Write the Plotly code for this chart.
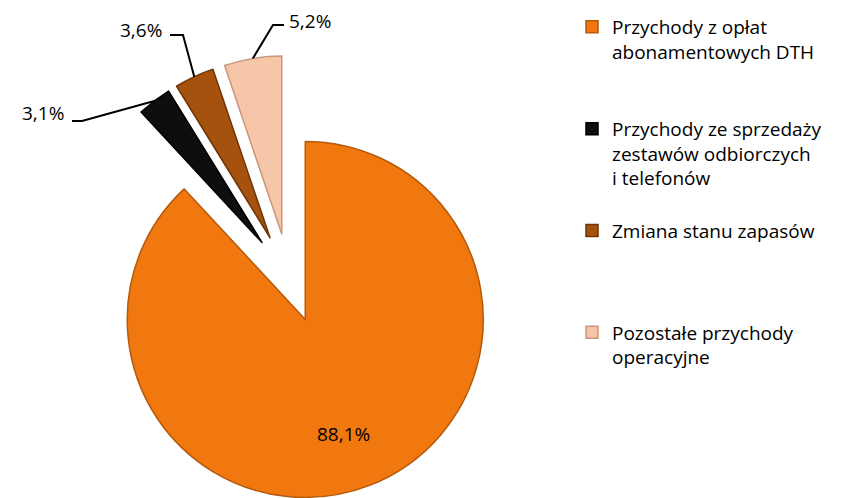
import math
import plotly.graph_objects as go

# ---- data ----
labels = [
    "Przychody z opłat<br>abonamentowych DTH",
    "Przychody ze sprzedaży<br>zestawów odbiorczych<br>i telefonów",
    "Zmiana stanu zapasów",
    "Pozostałe przychody<br>operacyjne",
]
values = [88.1, 3.1, 3.6, 5.2]
pct_text = [f"{v:.1f}%".replace(".", ",") for v in values]

# ---- style / layout ----
W, H = 852, 498
PAGE = 8  # default body margin of the html page (screen px)
colors = ["#F0780F", "#0E0E0E", "#A4520D", "#F6C6A8"]
edge_colors = ["#B45A0C", "#000000", "#6E3508", "#C9977C"]
pulls = [0.25, 0.25, 0.25, 0.25]
FONT = "Open Sans, Calibri, sans-serif"
FS = 19

# pie placement in screen pixels (pie centre, radius)
CX, CY, RAD = 289, 278, 178
HALF = RAD * (1 + max(pulls))


def s2p(x, y):
    """screen pixel -> paper fraction"""
    return (x - PAGE) / W, 1 - (y - PAGE) / H


# pad legend entries to equal height (entries are spaced evenly)
LEG_LINES = 4
leg_labels = []
for lab in labels:
    n = lab.count("<br>") + 1
    leg_labels.append(lab + "<br> " * (LEG_LINES - n))

dx0, dy1 = s2p(CX - HALF, CY - HALF)
dx1, dy0 = s2p(CX + HALF, CY + HALF)

fig = go.Figure()
fig.add_trace(go.Pie(
    labels=leg_labels,
    values=values,
    sort=False,
    direction="clockwise",
    rotation=0,
    pull=pulls,
    textinfo="none",
    marker=dict(colors=colors, line=dict(color=edge_colors, width=1.5)),
    domain=dict(x=[dx0, dx1], y=[dy0, dy1]),
    hoverinfo="label+percent",
))

# slice mid angles (clockwise from 12 o'clock)
total = sum(values)
cum = 0.0
mids = []
for v in values:
    a0 = cum / total * 360
    cum += v
    a1 = cum / total * 360
    mids.append((a0 + a1) / 2)

# label for the big slice, inside it
th = math.radians(mids[0])
pv = (CX + pulls[0] * RAD * math.sin(th), CY - pulls[0] * RAD * math.cos(th))
lx, ly = pv[0] + 0.68 * RAD * math.sin(th + math.radians(3)), pv[1] - 0.68 * RAD * math.cos(th + math.radians(3))
p = s2p(lx, ly)
fig.add_annotation(x=p[0], y=p[1], xref="paper", yref="paper", text=pct_text[0],
                   showarrow=False, xanchor="center", yanchor="middle",
                   font=dict(family=FONT, size=FS, color="#000000"))

# outside labels with elbow leader lines for small slices (screen px)
label_pos = {
    1: dict(elbow=(82, 121), end=(72, 121), text=(66, 113), side="right"),
    2: dict(elbow=(183, 35), end=(170, 35), text=(164, 30), side="right"),
    3: dict(elbow=(273, 25), end=(284, 25), text=(287, 21), side="left"),
}

for i, pos in label_pos.items():
    th = math.radians(mids[i])
    dist = (1 + pulls[i]) * RAD
    ox = CX + dist * math.sin(th)
    oy = CY - dist * math.cos(th)
    p0 = s2p(ox, oy)
    p1 = s2p(*pos["elbow"])
    p2 = s2p(*pos["end"])
    fig.add_shape(type="path", xref="paper", yref="paper",
                  path=f"M {p0[0]},{p0[1]} L {p1[0]},{p1[1]} L {p2[0]},{p2[1]}",
                  line=dict(color="#000000", width=2))
    pt = s2p(*pos["text"])
    fig.add_annotation(x=pt[0], y=pt[1], xref="paper", yref="paper",
                       text=pct_text[i], showarrow=False,
                       xanchor=pos["side"], yanchor="middle",
                       font=dict(family=FONT, size=FS, color="#000000"))

fig.update_layout(
    width=W, height=H,
    margin=dict(l=0, r=0, t=0, b=0),
    paper_bgcolor="#FFFFFF",
    plot_bgcolor="#FFFFFF",
    showlegend=True,
    legend=dict(
        x=(604 - 40) / W, y=1.0, xanchor="left", yanchor="top",
        valign="top",
        font=dict(family=FONT, size=FS, color="#000000"),
        bgcolor="rgba(0,0,0,0)",
        itemclick=False, itemdoubleclick=False,
    ),
)

fig.write_html("out.html")
